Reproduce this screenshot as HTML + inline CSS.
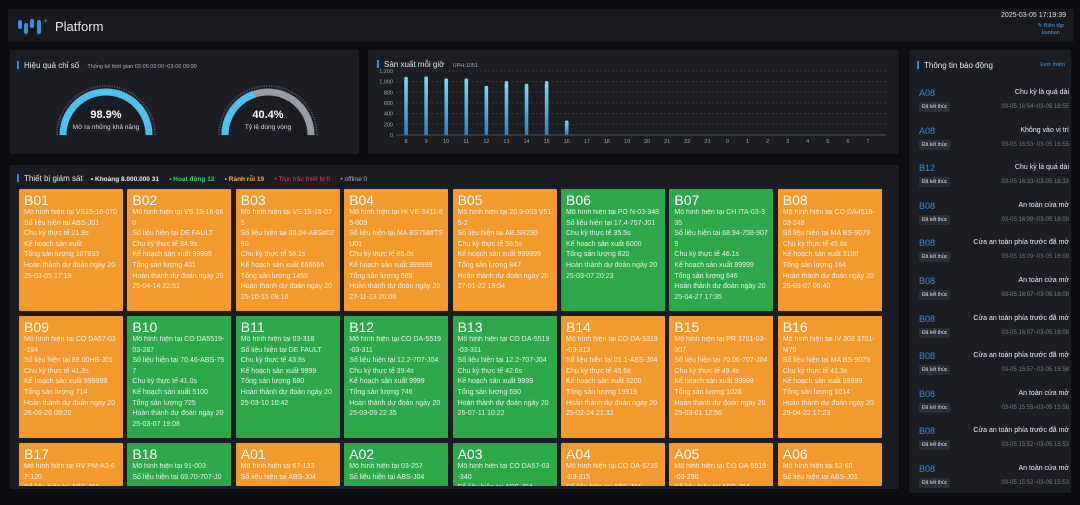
<!DOCTYPE html>
<html><head><meta charset="utf-8">
<style>
*{box-sizing:border-box;margin:0;padding:0}
html{width:1080px;height:505px;overflow:hidden}
body{width:1080px;height:505px;background:#0c0d10;font-family:"Liberation Sans","Noto Sans CJK SC",sans-serif;color:#dfe3ea;overflow:hidden;position:relative}
.panel{position:absolute;background:#1b1d22;border-radius:2px}
.ttl{position:absolute;font-size:8px;color:#e6e9ef;white-space:nowrap}
.ttl:before{content:"";display:inline-block;width:2px;height:8px;background:#2f8be8;margin-right:5px;vertical-align:-1px}
.card{position:absolute;width:104px;padding:4px 5px;color:#fff;overflow:hidden;border-radius:1px}
.card h3{font-size:14px;font-weight:normal;line-height:15px}
.card p{font-size:7px;line-height:10.6px;opacity:.88;word-break:break-all}
.alm{position:absolute;left:919px;width:150px;height:36px}
</style></head><body>
<div class="panel" style="left:8px;top:9px;width:1066px;height:33px;background:#18191d">
<svg style="position:absolute;left:10px;top:7px" width="36" height="20"><rect x="0" y="4" width="4" height="9" rx="2" fill="#3a8ee6"/><rect x="6" y="7" width="4" height="11" rx="2" fill="#3a8ee6"/><rect x="12" y="3" width="4" height="9" rx="2" fill="#3a8ee6"/><rect x="19" y="4" width="4" height="14" rx="2" fill="#3a8ee6"/><text x="25" y="8" fill="#3a8ee6" font-size="9">+</text></svg>
<div style="position:absolute;left:47px;top:10px;font-size:13px;color:#e8eaee">Platform</div>
<div style="position:absolute;right:8px;top:3px;font-size:7px">2025-03-05 17:19:39</div>
<div style="position:absolute;right:10px;top:14px;font-size:5.5px;color:#4a9ae8;line-height:7px;text-align:center">✎ Biên tập<br>kanban</div>
</div>

<div class="panel" style="left:10px;top:50px;width:349px;height:104px">
<div class="ttl" style="left:7px;top:11px">Hiệu quả chỉ số <span style="font-size:5.5px;color:#aab;margin-left:6px">Thống kê thời gian 03-05 09:00~03-06 09:00</span></div>
<svg style="position:absolute;left:44px;top:28px" width="104" height="62"><path d="M9 57 A43 43 0 0 1 95 57" fill="none" stroke="#4fc1ee" stroke-width="7"/><path d="M3 57 A49 49 0 0 1 101 57" fill="none" stroke="#556" stroke-width="2" stroke-dasharray="1 1.5"/><text x="52" y="40" text-anchor="middle" fill="#fff" font-size="11" font-weight="bold">98.9%</text><text x="52" y="51" text-anchor="middle" fill="#dde" font-size="6.5">Mở ra những khả năng</text></svg>
<svg style="position:absolute;left:206px;top:28px" width="104" height="62"><path d="M9 57 A43 43 0 0 1 95 57" fill="none" stroke="#9a9ca3" stroke-width="7"/><path d="M9 57 A43 43 0 0 1 38 16" fill="none" stroke="#4fc1ee" stroke-width="7"/><path d="M3 57 A49 49 0 0 1 101 57" fill="none" stroke="#556" stroke-width="2" stroke-dasharray="1 1.5"/><text x="52" y="40" text-anchor="middle" fill="#fff" font-size="11" font-weight="bold">40.4%</text><text x="52" y="51" text-anchor="middle" fill="#dde" font-size="6.5">Tỷ lệ dùng vòng</text></svg>
</div>

<div class="panel" style="left:368px;top:50px;width:531px;height:104px">
<div class="ttl" style="left:9px;top:10px">Sản xuất mỗi giờ <span style="font-size:5.5px;color:#aab;margin-left:6px">UPH:1051</span></div>
<svg id="bars" style="position:absolute;left:0;top:0" width="531" height="104"></svg>
</div>

<div class="panel" style="left:10px;top:165px;width:889px;height:324px">
<div class="ttl" style="left:7px;top:9px;font-size:8px">Thiết bị giám sát
<span style="font-size:6.5px;margin-left:6px;font-weight:bold">• Khoảng 8.000.000 31</span>
<span style="font-size:6.5px;margin-left:8px;color:#3bd16a;font-weight:bold">• Hoạt động 12</span>
<span style="font-size:6.5px;margin-left:8px;color:#f0b040;font-weight:bold">• Rảnh rỗi 19</span>
<span style="font-size:6.5px;margin-left:8px;color:#e0406a">• Trục trặc thiết bị 0</span>
<span style="font-size:6.5px;margin-left:8px;color:#aab">• offline 0</span></div>
</div>
<div id="cards" style="position:absolute;left:0;top:0;width:900px;height:486px;overflow:hidden"></div>

<div class="panel" style="left:909px;top:50px;width:162px;height:443px">
<div class="ttl" style="left:8px;top:11px">Thông tin báo động</div>
<div style="position:absolute;right:6px;top:12px;font-size:5.5px;color:#4a9ae8">Xem thêm</div>
</div>
<div id="alarms" style="position:absolute;left:0;top:0;width:1080px;height:488px;overflow:hidden"></div>

<script>
const hours=["8","9","10","11","12","13","14","15","16","17","18","19","20","21","22","23","0","1","2","3","4","5","6","7"];
const outputs=[1090,1100,1060,1060,920,1010,960,1010,270,0,0,0,0,0,0,0,0,0,0,0,0,0,0,0];
const yTicks=[0,200,400,600,800,1000,1200];
(function(){
const s=document.getElementById('bars');const ns="http://www.w3.org/2000/svg";
const x0=28,x1=510,yb=85,yt=21;const y=v=>yb-(v/1200)*(yb-yt);const bw=(x1-x0)/hours.length;const x=i=>x0+bw*(i+0.5);
s.innerHTML='<defs><linearGradient id="g" x1="0" y1="0" x2="0" y2="1"><stop offset="0" stop-color="#7fdcf6"/><stop offset="1" stop-color="#2a7fc8"/></linearGradient></defs>';
yTicks.forEach(t=>{const l=document.createElementNS(ns,'line');l.setAttribute('x1',x0);l.setAttribute('x2',x1+8);l.setAttribute('y1',y(t));l.setAttribute('y2',y(t));l.setAttribute('stroke',t?'#33363d':'#555');l.setAttribute('stroke-dasharray',t?'2 2':'');

s.appendChild(l);
const tx=document.createElementNS(ns,'text');tx.setAttribute('x',x0-3);tx.setAttribute('y',y(t)+2);tx.setAttribute('text-anchor','end');tx.setAttribute('font-size','5.5');tx.setAttribute('fill','#9aa');tx.textContent=t.toLocaleString('en-US');

s.appendChild(tx);});
hours.forEach((hr,i)=>{const r=document.createElementNS(ns,'rect');r.setAttribute('x',x(i)-1.8);r.setAttribute('width',3.6);r.setAttribute('y',y(outputs[i]));r.setAttribute('height',yb-y(outputs[i]));r.setAttribute('rx',1.5);r.setAttribute('fill','url(#g)');

s.appendChild(r);
const tx=document.createElementNS(ns,'text');tx.setAttribute('x',x(i));tx.setAttribute('y',yb+8);tx.setAttribute('text-anchor','middle');tx.setAttribute('font-size','5.5');tx.setAttribute('fill','#9aa');tx.textContent=hr;

s.appendChild(tx);});
})();

const devices=["B01","B02","B03","B04","B05","B06","B07","B08","B09","B10","B11","B12","B13","B14","B15","B16","B17","B18","A01","A02","A03","A04","A05","A06"];
const states=["o","o","o","o","o","g","g","o","o","g","g","g","g","o","o","o","o","g","o","g","g","o","o","o"];
const models=["VS15-16-070","VS 15-16-060","VS 15-16-075","HI VE-3411-85-009","20.9-003 V515-2","PO N-03-348","CH ITA-03-335","CO DA4518-03-248","CO DA57-03-184","CO DA5519-03-287","03-318","CO DA-5519-03-311","CO DA-5519-03-311","CO DA-5319-03-313","PR 3701-03-307","IV 303 3701-M70","RV PM-A3-67-120","91-003","67-133","03-257","CO DA57-03-340","CO DA-5719-03-315","CO DA-5519-03-290","52-60"];
const data=["ABS-J01","DE FAULT","00.04-ABS#0290","MA BS758#TSU01","AB.SR290","17.4-757-J01","68.94-758-9079","MA BS-9079","89.00HB-J01","70.46-ABS-757","DE FAULT","12.2-707-J04","12.2-707-J04","01.1-ABS-J04","70.06-707-J04","MA BS-9079","ABS-J01","69.70-707-J0","ABS-J04","ABS-J04","ABS-J04","ABS-J04","ABS-J04","ABS-J01"];
const cycles=["21.9s","34.9s","58.1s","85.0s","59.5s","35.5s","46.1s","45.8s","41.3s","41.0s","43.8s","39.4s","42.6s","45.6s","49.4s","41.3s","40.0s","41.0s","40.0s","40.0s","40.0s","40.0s","40.0s","40.0s"];
const plans=["","99999","666666","999999","999999","6000","99999","3100","999999","5100","9999","9999","9999","3200","99999","99999","","","","","","","",""];
const totals=["107833","401","1458","689","847","820","646","164","714","725","680","746","690","19919","1026","1014","","","","","","","",""];
const finish=["2025-03-05 17:19","2025-04-14 22:51","2025-10-15 09:10","2027-11-13 20:08","2027-01-22 19:04","2025-03-07 20:23","2025-04-27 17:35","2025-03-07 06:40","2026-06-26 09:20","2025-03-07 19:08","2025-03-10 10:42","2025-03-09 22:35","2026-07-11 10:22","2025-02-24 21:32","2025-03-01 12:56","2025-04-22 17:23","","","","","","","",""];
(function(){
const c=document.getElementById('cards');
devices.forEach((d,i)=>{const col=i%8,row=Math.floor(i/8);const el=document.createElement('div');el.className='card';
const top=189+row*127;
el.style.left=(19+col*108.4)+'px';el.style.top=top+'px';el.style.height=Math.min(122,486-top)+'px';
el.style.background=states[i]=='g'?'#2ea84b':'#f39a2f';


let body='Mô hình hiện tại  '+models[i]+'<br>Số liệu hiện tại  '+data[i];
if(row<2) body+='<br>Chu kỳ thực tế  '+cycles[i]+'<br>Kế hoạch sản xuất  '+plans[i]+'<br>Tổng sản lượng  '+totals[i]+'<br>Hoàn thành dự đoán ngày  '+finish[i];
el.innerHTML='<h3>'+d+'</h3><p>'+body+'</p>';
c.appendChild(el);});
})();

const almDev=["A08","A08","B12","B08","B08","B08","B08","B08","B08","B08","B08"];
const almMsg=["Chu kỳ là quá dài","Không vào vị trí","Chu kỳ là quá dài","An toàn cửa mở","Cửa an toàn phía trước đã mở","An toàn cửa mở","Cửa an toàn phía trước đã mở","Cửa an toàn phía trước đã mở","An toàn cửa mở","Cửa an toàn phía trước đã mở","An toàn cửa mở"];
const almTime=["03-05 16:54~03-05 16:55","03-05 16:53~03-05 16:55","03-05 16:33~03-05 16:33","03-05 16:09~03-05 16:09","03-05 16:09~03-05 16:09","03-05 16:07~03-05 16:08","03-05 16:07~03-05 16:08","03-05 15:57~03-05 15:58","03-05 15:55~03-05 15:58","03-05 15:52~03-05 15:53","03-05 15:52~03-05 15:53"];
(function(){const a=document.getElementById('alarms');
almDev.forEach((d,i)=>{const el=document.createElement('div');el.className='alm';el.style.top=(88+i*37.6)+'px';


el.innerHTML='<div style="position:absolute;left:0;top:0;font-size:9px;color:#3d86d8">'+d+'</div><div style="position:absolute;right:0;top:1px;font-size:7px;color:#eef">'+almMsg[i]+'</div><div style="position:absolute;left:0;top:14px;font-size:5px;background:#2a2d34;padding:2px 3px;border-radius:2px;color:#dde">Đã kết thúc</div><div style="position:absolute;right:0;top:16px;font-size:6px;color:#777c86">'+almTime[i]+'</div>';
a.appendChild(el);});
})();
</script>
</body></html>
